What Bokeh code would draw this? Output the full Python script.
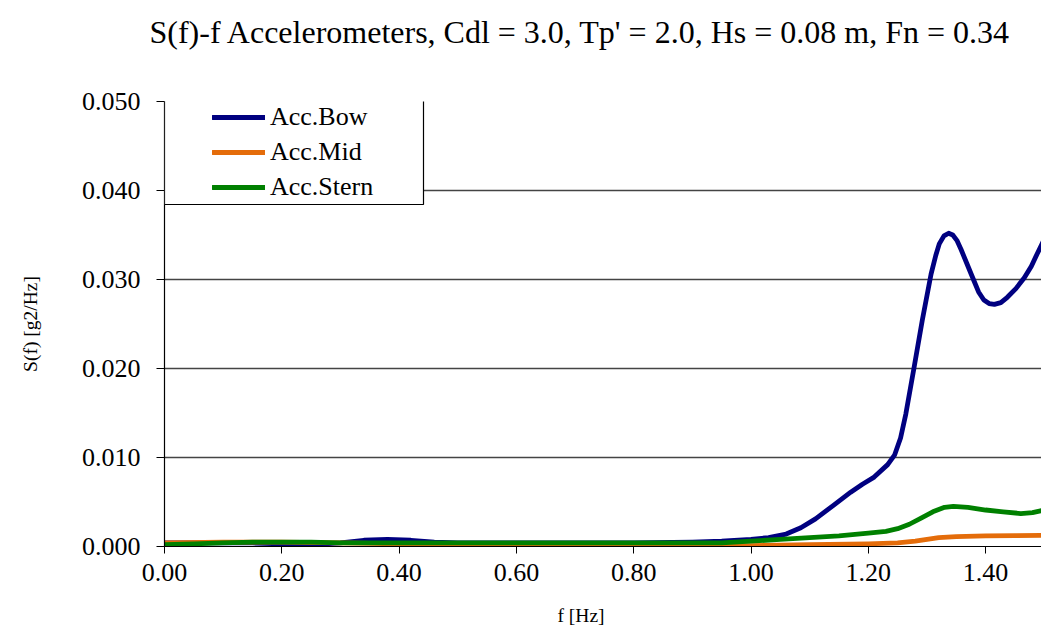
from bokeh.plotting import figure
from bokeh.models import (Range1d, FixedTicker, NumeralTickFormatter, Legend,
                          LegendItem, BoxAnnotation, Title)
from bokeh.embed import file_html
from bokeh.resources import INLINE

# ---- data ----
bow_f = [0.00, 0.05, 0.10, 0.15, 0.20, 0.25, 0.30, 0.34, 0.38, 0.42, 0.46, 0.50,
         0.60, 0.70, 0.80, 0.90, 0.95, 1.00, 1.03, 1.06, 1.085, 1.11, 1.14, 1.17,
         1.19, 1.21, 1.233, 1.245, 1.255, 1.264, 1.278, 1.292, 1.307, 1.315, 1.321,
         1.329, 1.337, 1.344, 1.351, 1.358, 1.368, 1.378, 1.388, 1.397, 1.406,
         1.415, 1.426, 1.437, 1.452, 1.466, 1.478, 1.488, 1.50]
bow_s = [0.0004, 0.0004, 0.0004, 0.0004, 0.0003, 0.0002, 0.0004, 0.0007, 0.0008,
         0.0007, 0.0005, 0.0004, 0.0004, 0.0004, 0.0004, 0.0005, 0.0006, 0.0008,
         0.0010, 0.0014, 0.0021, 0.0031, 0.0046, 0.0061, 0.0070, 0.0078, 0.0092,
         0.0103, 0.0122, 0.0149, 0.0201, 0.0254, 0.0306, 0.0327, 0.0340, 0.0349,
         0.0352, 0.0350, 0.0344, 0.0334, 0.0318, 0.0302, 0.0286, 0.0277, 0.0273,
         0.0272, 0.0274, 0.0280, 0.0290, 0.0302, 0.0315, 0.0329, 0.0345]

mid_f = [0.00, 0.10, 0.20, 0.30, 0.40, 0.50, 0.60, 0.70, 0.80, 0.90, 1.00, 1.10,
         1.20, 1.25, 1.28, 1.30, 1.32, 1.35, 1.40, 1.45, 1.50]
mid_s = [0.0004, 0.0005, 0.0005, 0.0004, 0.0003, 0.0002, 0.0002, 0.0001, 0.0001,
         0.0001, 0.0001, 0.0002, 0.0003, 0.0004, 0.0006, 0.0008, 0.0010, 0.0011,
         0.0012, 0.00123, 0.00125]

stern_f = [0.00, 0.05, 0.10, 0.15, 0.20, 0.25, 0.30, 0.40, 0.50, 0.60, 0.70, 0.80,
           0.90, 0.95, 1.00, 1.05, 1.10, 1.15, 1.20, 1.23, 1.25, 1.27, 1.29, 1.31,
           1.33, 1.345, 1.37, 1.40, 1.43, 1.46, 1.48, 1.50]
stern_s = [0.0002, 0.0003, 0.0004, 0.0005, 0.0005, 0.0005, 0.0004, 0.0004, 0.0004,
           0.0004, 0.0004, 0.0004, 0.0004, 0.0004, 0.0006, 0.0008, 0.0010, 0.0012,
           0.0015, 0.0017, 0.0020, 0.0025, 0.0032, 0.0039, 0.0044, 0.0045, 0.0044,
           0.0041, 0.0039, 0.0037, 0.0038, 0.0041]

x_ticks = [0.0, 0.2, 0.4, 0.6, 0.8, 1.0, 1.2, 1.4]
y_ticks = [0.0, 0.01, 0.02, 0.03, 0.04, 0.05]

series_names = ["Acc.Bow", "Acc.Mid", "Acc.Stern"]
series_colors = ["#000080", "#E46C0A", "#008000"]

title_text = "S(f)-f Accelerometers, Cdl = 3.0, Tp' = 2.0, Hs = 0.08 m, Fn = 0.34"
x_label = "f [Hz]"
y_label = "S(f) [g2/Hz]"

FONT = "Liberation Serif"

p = figure(width=1041, height=632, output_backend="svg", toolbar_location=None,
           x_range=Range1d(0, 1.4953), y_range=Range1d(0, 0.05),
           min_border_left=164, min_border_right=0, min_border_top=101,
           min_border_bottom=86)
p.outline_line_color = None
p.background_fill_color = "white"
p.border_fill_color = "white"
p.title.text = ""

# title (spacer nearest the frame, then the real title)
p.add_layout(Title(text=" ", text_font_size="1px", standoff=40), "above")
p.add_layout(Title(text=title_text, align="left", offset=-15, text_font=FONT,
                   text_font_size="32px", text_font_style="normal",
                   text_color="black", standoff=18), "above")

# axes
for ax in (p.xaxis[0], p.yaxis[0]):
    ax.major_label_text_font = FONT
    ax.major_label_text_font_size = "26px"
    ax.major_label_text_color = "black"
    ax.axis_line_color = "black"
    ax.axis_line_width = 1.2
    ax.major_tick_line_color = "black"
    ax.major_tick_in = 0
    ax.minor_tick_line_color = None
    ax.axis_label_text_font = FONT
    ax.axis_label_text_font_style = "normal"
    ax.axis_label_text_font_size = "19.5px"
    ax.axis_label_text_color = "black"

p.xaxis.ticker = FixedTicker(ticks=x_ticks)
p.xaxis.formatter = NumeralTickFormatter(format="0.00")
p.xaxis.major_tick_out = 7
p.xaxis.major_label_standoff = 10

p.yaxis.ticker = FixedTicker(ticks=y_ticks)
p.yaxis.formatter = NumeralTickFormatter(format="0.000")
p.yaxis.major_tick_out = 8
p.yaxis.major_label_standoff = 16
p.yaxis.axis_label = y_label
p.yaxis.axis_label_standoff = 38

# x-axis title (spacer below the axis, then the label)
p.add_layout(Title(text=" ", text_font_size="1px", standoff=16), "below")
p.add_layout(Title(text=x_label, align="left", offset=393, text_font=FONT,
                   text_font_size="19.5px", text_font_style="normal",
                   text_color="black", standoff=0), "below")

# grid
p.xgrid.grid_line_color = None
p.ygrid.ticker = FixedTicker(ticks=y_ticks)
p.ygrid.grid_line_color = "#444444"
p.ygrid.grid_line_width = 1.3

# lines
renderers = []
for fx, sy, c in ((bow_f, bow_s, series_colors[0]), (mid_f, mid_s, series_colors[1]),
                  (stern_f, stern_s, series_colors[2])):
    r = p.line(fx, sy, line_color=c, line_width=4.8, line_join="round",
               line_cap="round")
    renderers.append(r)

# legend box
box = BoxAnnotation(left=0, right=259, bottom=342, top=446,
                    left_units="screen", right_units="screen",
                    bottom_units="screen", top_units="screen",
                    fill_color="white", fill_alpha=1.0,
                    line_color="black", line_width=1.2, line_alpha=1.0)
p.add_layout(box)

legend = Legend(items=[LegendItem(label=n, renderers=[r])
                       for n, r in zip(series_names, renderers)],
                location=(48, 344), padding=0, spacing=5,
                glyph_width=53, glyph_height=30, label_height=30,
                label_standoff=5, label_text_font=FONT,
                label_text_font_size="26px", label_text_color="black",
                border_line_color=None, background_fill_alpha=0.0)
p.add_layout(legend, "center")

open("out.html", "w").write(file_html(p, INLINE))
